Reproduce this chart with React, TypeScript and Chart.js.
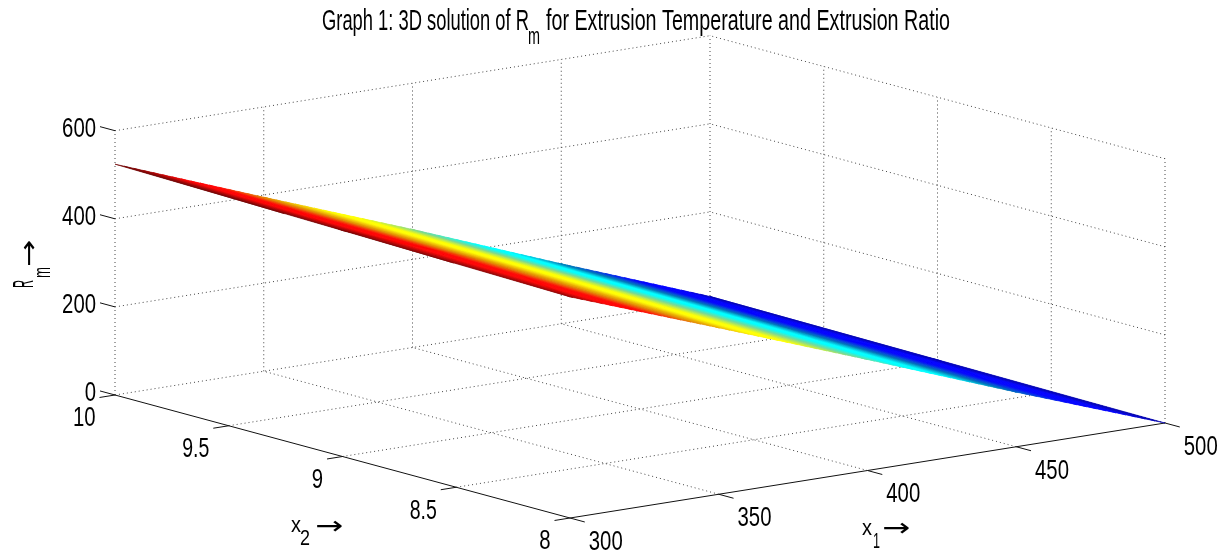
import React, { useEffect, useRef } from "react";
import { Chart, registerables } from "chart.js";

Chart.register(...registerables);

const TITLE_LEFT = "Graph 1: 3D solution of R";
const TITLE_SUB = "m";
const TITLE_RIGHT = "for Extrusion Temperature and Extrusion Ratio";

// axis ticks
const x1Ticks = [300, 350, 400, 450, 500];
const x2Ticks = [8, 8.5, 9, 9.5, 10];
const zTicks = [0, 200, 400, 600];
const x1Labels = ["300", "350", "400", "450", "500"];
const x2Labels = ["8", "8.5", "9", "9.5", "10"];
const zLabels = ["0", "200", "400", "600"];

// surface samples: Rm for each (x1, x2)
const surfaceX1 = [300, 350, 400, 450, 500];
const surfaceX2 = [8, 9, 10];
const rmAtX2_8 = [502, 378, 252, 124, 0];
const rmAtX2_9 = [513, 388, 260, 130, 4];
const rmAtX2_10 = [524, 395, 268, 136, 8];
const rmRows = [rmAtX2_8, rmAtX2_9, rmAtX2_10];

// colour map anchors [position, r, g, b]
const colourStops = [
  [0.0, 0, 0, 170],
  [0.07, 0, 0, 255],
  [0.14, 0, 0, 255],
  [0.25, 0, 125, 185],
  [0.35, 0, 255, 255],
  [0.4, 0, 255, 255],
  [0.5, 125, 215, 145],
  [0.6, 255, 255, 0],
  [0.645, 255, 255, 0],
  [0.75, 225, 140, 0],
  [0.83, 255, 0, 0],
  [0.88, 255, 0, 0],
  [0.97, 120, 0, 0],
  [1.0, 110, 0, 0],
];
const LEVELS = 64;

// view of the 3D box on the page
const ORIGIN = { x: 570, y: 518 }; // x1=300, x2=8, z=0
const PER_X1 = { x: 595 / 200, y: -95 / 200 };
const PER_X2 = { x: -455 / 2, y: -123 / 2 };
const PER_Z = -88.1 / 200;

function project(x1: number, x2: number, z: number) {
  return {
    x: ORIGIN.x + (x1 - 300) * PER_X1.x + (x2 - 8) * PER_X2.x,
    y: ORIGIN.y + (x1 - 300) * PER_X1.y + (x2 - 8) * PER_X2.y + z * PER_Z,
  };
}

type P3 = [number, number, number];

function colourAt(t: number) {
  for (let i = 1; i < colourStops.length; i++) {
    const a = colourStops[i - 1];
    const b = colourStops[i];
    if (t <= b[0]) {
      const f = (t - a[0]) / (b[0] - a[0]);
      const c = [1, 2, 3].map((k) => Math.round(a[k] + (b[k] - a[k]) * f));
      return `rgb(${c[0]},${c[1]},${c[2]})`;
    }
  }
  return "rgb(110,0,0)";
}

function clip(poly: P3[], limit: number, keepAbove: boolean): P3[] {
  const out: P3[] = [];
  for (let i = 0; i < poly.length; i++) {
    const a = poly[i];
    const b = poly[(i + 1) % poly.length];
    const ina = keepAbove ? a[2] >= limit : a[2] <= limit;
    const inb = keepAbove ? b[2] >= limit : b[2] <= limit;
    if (ina) out.push(a);
    if (ina !== inb) {
      const f = (limit - a[2]) / (b[2] - a[2]);
      out.push([a[0] + (b[0] - a[0]) * f, a[1] + (b[1] - a[1]) * f, limit]);
    }
  }
  return out;
}

function lineDataset(pts: P3[], color: string, dash: number[], width: number, order: number) {
  return {
    type: "scatter",
    showLine: true,
    data: pts.map((p) => project(p[0], p[1], p[2])),
    borderColor: color,
    borderWidth: width,
    borderDash: dash,
    pointRadius: 0,
    fill: false,
    tension: 0,
    order,
  };
}

function buildDatasets() {
  const sets: any[] = [];
  const dash = [1, 3];
  const gridColour = "#444";
  const zMax = zTicks[zTicks.length - 1];
  const x1Lo = x1Ticks[0];
  const x1Hi = x1Ticks[x1Ticks.length - 1];
  const x2Lo = x2Ticks[0];
  const x2Hi = x2Ticks[x2Ticks.length - 1];

  // dotted grid on floor and the two back walls (each line once)
  x1Ticks.forEach((v) => {
    if (v !== x1Lo) sets.push(lineDataset([[v, x2Lo, 0], [v, x2Hi, 0]], gridColour, dash, 1, 30));
    sets.push(lineDataset([[v, x2Hi, 0], [v, x2Hi, zMax]], gridColour, dash, 1, 30));
  });
  x2Ticks.forEach((v) => {
    if (v !== x2Lo) sets.push(lineDataset([[x1Lo, v, 0], [x1Hi, v, 0]], gridColour, dash, 1, 30));
    if (v !== x2Hi) sets.push(lineDataset([[x1Hi, v, 0], [x1Hi, v, zMax]], gridColour, dash, 1, 30));
  });
  zTicks.forEach((v) => {
    if (v === 0) return;
    sets.push(lineDataset([[x1Lo, x2Hi, v], [x1Hi, x2Hi, v]], gridColour, dash, 1, 30));
    sets.push(lineDataset([[x1Hi, x2Lo, v], [x1Hi, x2Hi, v]], gridColour, dash, 1, 30));
  });

  // solid axes and ticks
  sets.push(lineDataset([[x1Lo, x2Hi, 0], [x1Lo, x2Lo, 0]], "#111", [], 1, 20));
  sets.push(lineDataset([[x1Lo, x2Lo, 0], [x1Hi, x2Lo, 0]], "#111", [], 1, 20));
  x1Ticks.forEach((v) => sets.push(lineDataset([[v, x2Lo, 0], [v, x2Lo - 0.065, 0]], "#111", [], 1, 20)));
  x2Ticks.forEach((v) => sets.push(lineDataset([[x1Lo, v, 0], [x1Lo - 5.2, v, 0]], "#111", [], 1, 20)));
  zTicks.forEach((v) => sets.push(lineDataset([[x1Lo, x2Hi, v], [x1Lo, x2Hi + 0.066, v]], "#111", [], 1, 20)));

  // surface: one filled polygon per colour level in each triangle of the mesh
  const zTop = 524;
  const triangles: P3[][] = [];
  for (let r = 0; r < surfaceX2.length - 1; r++) {
    for (let c = 0; c < surfaceX1.length - 1; c++) {
      const a: P3 = [surfaceX1[c], surfaceX2[r], rmRows[r][c]];
      const b: P3 = [surfaceX1[c + 1], surfaceX2[r], rmRows[r][c + 1]];
      const d: P3 = [surfaceX1[c + 1], surfaceX2[r + 1], rmRows[r + 1][c + 1]];
      const e: P3 = [surfaceX1[c], surfaceX2[r + 1], rmRows[r + 1][c]];
      triangles.push([a, b, d], [a, d, e]);
    }
  }
  for (let lv = 0; lv < LEVELS; lv++) {
    const lo = (lv / LEVELS) * zTop;
    const hi = ((lv + 1) / LEVELS) * zTop;
    const colour = colourAt((lv + 0.5) / LEVELS);
    triangles.forEach((tri) => {
      const piece = clip(clip(tri, lo, true), hi, false);
      if (piece.length < 3) return;
      const closed = [...piece, piece[0]];
      sets.push({
        type: "scatter",
        showLine: true,
        data: closed.map((p) => project(p[0], p[1], p[2])),
        borderColor: colour,
        backgroundColor: colour,
        borderWidth: 0.6,
        pointRadius: 0,
        fill: "shape",
        tension: 0,
        order: 1,
      });
    });
  }
  return sets;
}

const FONT = '"Liberation Sans", Arial, sans-serif';
const ARROW_FONT = '"DejaVu Sans", sans-serif';

function fitText(
  ctx: CanvasRenderingContext2D,
  text: string,
  left: number,
  baseline: number,
  width: number,
  size: number,
  family: string = FONT
) {
  ctx.save();
  ctx.font = `${size}px ${family}`;
  ctx.textAlign = "left";
  ctx.textBaseline = "alphabetic";
  const w = ctx.measureText(text).width;
  ctx.translate(left, baseline);
  ctx.scale(width / w, 1);
  ctx.fillText(text, 0, 0);
  ctx.restore();
}

const textPlugin = {
  id: "boxText",
  afterDatasetsDraw(chart: any) {
    const ctx: CanvasRenderingContext2D = chart.ctx;
    const px = (p: { x: number; y: number }) => ({
      x: chart.scales.x.getPixelForValue(p.x),
      y: chart.scales.y.getPixelForValue(p.y),
    });
    ctx.save();
    ctx.fillStyle = "#000";
    const digit = 11.3;
    const dot = 4.5;
    const labelWidth = (s: string) => {
      let w = 0;
      for (const ch of s) w += ch === "." ? dot : digit;
      return w;
    };
    const SIZE = 28;

    // title
    fitText(ctx, TITLE_LEFT, 322, 30, 207, 29);
    fitText(ctx, TITLE_SUB, 528, 44, 12, 24);
    fitText(ctx, TITLE_RIGHT, 546, 30, 404, 29);

    // z labels
    zLabels.forEach((s, i) => {
      const p = px(project(300, 10.066, zTicks[i]));
      const w = labelWidth(s);
      fitText(ctx, s, p.x - 4 - w, p.y + 10, w, SIZE);
    });
    // x2 labels
    x2Labels.forEach((s, i) => {
      const p = px(project(294.8, x2Ticks[i], 0));
      const w = labelWidth(s);
      fitText(ctx, s, p.x - 4 - w, p.y + 29, w, SIZE);
    });
    // x1 labels
    x1Labels.forEach((s, i) => {
      const p = px(project(x1Ticks[i], 7.935, 0));
      const w = labelWidth(s);
      fitText(ctx, s, p.x + 4, p.y + 28, w, SIZE);
    });

    // x2 axis label
    fitText(ctx, "x", 291, 532, 10, 22);
    fitText(ctx, "2", 300, 545, 10, 22);
    fitText(ctx, "→", 315, 534, 28, 25, ARROW_FONT);
    // x1 axis label
    fitText(ctx, "x", 862, 535, 10, 22);
    fitText(ctx, "1", 873, 548, 7, 22);
    fitText(ctx, "→", 882, 536, 28, 25, ARROW_FONT);

    // Rm axis label
    ctx.save();
    ctx.translate(33, 288);
    ctx.rotate(-Math.PI / 2);
    fitText(ctx, "R", 0, 0, 8, 29);
    fitText(ctx, "m", 10, 17, 11, 24);
    fitText(ctx, "→", 21, 4, 27, 25, ARROW_FONT);
    ctx.restore();
    ctx.restore();
  },
};

export default function App() {
  const ref = useRef<HTMLCanvasElement | null>(null);
  useEffect(() => {
    document.body.style.margin = "0";
    document.body.style.background = "#fff";
    const canvas = ref.current;
    if (!canvas) return;
    const chart = new Chart(canvas, {
      type: "scatter",
      data: { datasets: buildDatasets() as any },
      plugins: [textPlugin as any],
      options: {
        animation: false,
        responsive: false,
        events: [],
        layout: { padding: 0 },
        plugins: { legend: { display: false }, title: { display: false }, tooltip: { enabled: false } },
        scales: {
          x: { type: "linear", min: 0, max: 1226, display: false },
          y: { type: "linear", min: 0, max: 550, reverse: true, display: false },
        },
      },
    });
    return () => chart.destroy();
  }, []);
  return <canvas ref={ref} width={1226} height={550} style={{ display: "block" }} />;
}
